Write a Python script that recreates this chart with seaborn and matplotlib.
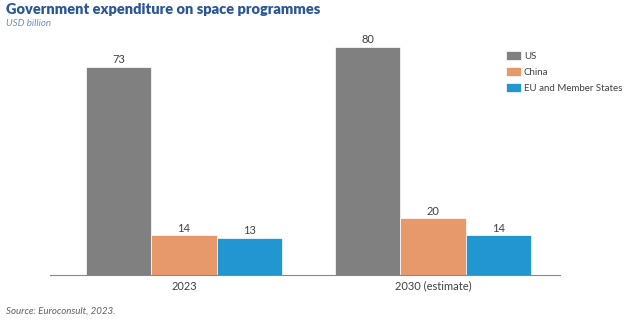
import matplotlib
matplotlib.use("Agg")
import matplotlib.pyplot as plt
import seaborn as sns
import pandas as pd

years = ["2023", "2030 (estimate)"]
regions = ["US", "China", "EU and Member States"]
us = [73, 80]
china = [14, 20]
eu = [13, 14]
colors = ["#808080", "#E8996B", "#2196D0"]

rows = []
for i, y in enumerate(years):
    for r, vals in zip(regions, [us, china, eu]):
        rows.append({"year": y, "region": r, "value": vals[i]})
df = pd.DataFrame(rows)

sns.set_theme(style="white")
plt.rcParams['font.family'] = ['Lato', 'DejaVu Sans']

fig = plt.figure(figsize=(6.25, 3.22), dpi=100)
ax = fig.add_axes([0.08, 1 - 275/322, 0.816, (275 - 30)/322])

sns.barplot(data=df, x="year", y="value", hue="region", palette=colors,
            width=0.785, ax=ax, edgecolor="white", linewidth=0.5, saturation=1)

for c in ax.containers:
    ax.bar_label(c, fmt="%d", padding=1, fontsize=8, color="#404040")

ax.set_xlim(-0.538, 1.51)
ax.set_ylim(0, 245/2.855)
ax.set_yticks([])
ax.set_xlabel("")
ax.set_ylabel("")
for s in ["top", "right", "left"]:
    ax.spines[s].set_visible(False)
ax.spines["bottom"].set_color("#888888")
ax.spines["bottom"].set_linewidth(0.8)
ax.tick_params(axis="x", length=0, labelsize=8, labelcolor="#404040", pad=4)

leg = ax.legend(loc="upper left", bbox_to_anchor=(0.894, 0.914), frameon=False,
                fontsize=7, handlelength=1.6, handleheight=1.05,
                handletextpad=0.25, labelspacing=0.62, borderaxespad=0,
                borderpad=0)
for t in leg.get_texts():
    t.set_color("#404040")

fig.text(0.01, 0.99, "Government expenditure on space programmes", fontsize=10.5,
         fontweight="heavy", color="#2B5797", ha="left", va="top",
         family=["Lato", "DejaVu Sans"])
fig.text(0.01, 0.94, "USD billion", fontsize=7, style="italic",
         color="#6A8FBF", ha="left", va="top")
fig.text(0.01, 0.033, "Source: Euroconsult, 2023.", fontsize=7, style="italic",
         color="#606060", ha="left", va="center")

fig.savefig("out.png", dpi=100)
